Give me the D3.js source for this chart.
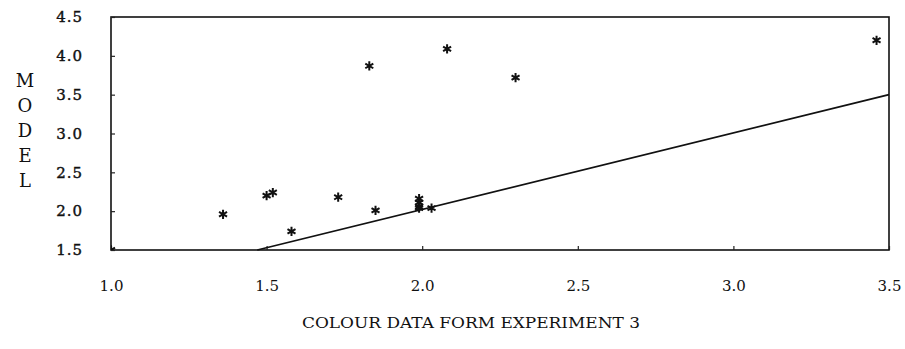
<!DOCTYPE html>
<html>
<head>
<meta charset="utf-8">
<script src="https://cdn.jsdelivr.net/npm/d3@7"></script>
<style>
  html, body { margin: 0; padding: 0; background: #fff; }
  svg { display: block; }
  svg text { font-family: "DejaVu Serif", "Liberation Serif", serif !important; }
</style>
</head>
<body>
<svg id="chart" width="905" height="349"></svg>
<script>
// ---- data ----
const xValues = [1.00, 1.36, 1.50, 1.52, 1.58, 1.73, 1.83, 1.85, 1.99, 1.99, 1.99, 1.99, 2.03, 2.08, 2.30, 3.46];
const yValues = [1.50, 1.96, 2.20, 2.24, 1.74, 2.18, 3.87, 2.01, 2.16, 2.11, 2.06, 2.04, 2.04, 4.09, 3.72, 4.20];
const lineX = [1.47, 3.50];
const lineY = [1.50, 3.50];
const xTicks = [1.0, 1.5, 2.0, 2.5, 3.0, 3.5];
const yTicks = [1.5, 2.0, 2.5, 3.0, 3.5, 4.0, 4.5];
const xTitle = "COLOUR DATA FORM EXPERIMENT 3";
const yTitle = "MODEL";

// ---- layout ----
const mLeft = 111, mRight = 889, mTop = 17, mBottom = 250;
const svg = d3.select("#chart");

const x = d3.scaleLinear().domain([1.0, 3.5]).range([mLeft, mRight]);
const y = d3.scaleLinear().domain([1.5, 4.5]).range([mBottom, mTop]);

// frame
svg.append("rect")
  .attr("x", mLeft).attr("y", mTop)
  .attr("width", mRight - mLeft).attr("height", mBottom - mTop)
  .attr("fill", "none").attr("stroke", "#111").attr("stroke-width", 1.6);

// y axis
const yAxis = svg.append("g")
  .attr("transform", `translate(${mLeft},0)`)
  .call(d3.axisLeft(y).tickValues(yTicks).tickFormat(d3.format(".1f")).tickSize(-4).tickPadding(28));
yAxis.select(".domain").remove();
yAxis.selectAll("line").attr("stroke", "#222").attr("stroke-width", 1.2);
yAxis.selectAll("text")
  .style("font-size", "15px").style("letter-spacing", "1px").attr("fill", "#111")
  .attr("stroke", "#111").attr("stroke-width", 0.4);

// x axis
const xAxis = svg.append("g")
  .attr("transform", `translate(0,${mBottom})`)
  .call(d3.axisBottom(x).tickValues(xTicks).tickFormat(d3.format(".1f")).tickSize(-4).tickPadding(30));
xAxis.select(".domain").remove();
xAxis.selectAll("line").attr("stroke", "#222").attr("stroke-width", 1.2);
xAxis.selectAll("text")
  .style("font-size", "15px").attr("fill", "#111");

// clip
svg.append("clipPath").attr("id", "plotclip")
  .append("rect").attr("x", mLeft).attr("y", mTop).attr("width", mRight - mLeft).attr("height", mBottom - mTop);

// reference line
const lineData = lineX.map((d, i) => [d, lineY[i]]);
svg.append("path")
  .datum(lineData)
  .attr("d", d3.line().x(d => x(d[0])).y(d => y(d[1])))
  .attr("fill", "none").attr("stroke", "#111").attr("stroke-width", 1.8);

// points
const pts = xValues.map((d, i) => [d, yValues[i]]);
const sym = d3.symbol().type(d3.symbolAsterisk).size(60);
svg.append("g").attr("clip-path", "url(#plotclip)")
  .selectAll("path.pt")
  .data(pts)
  .join("path")
  .attr("class", "pt")
  .attr("transform", d => `translate(${x(d[0])},${y(d[1])})`)
  .attr("d", sym)
  .attr("fill", "none").attr("stroke", "#111").attr("stroke-width", 2);

// x title
svg.append("text")
  .attr("x", 471).attr("y", 328)
  .attr("text-anchor", "middle")
  .style("font-size", "15px").attr("fill", "#111")
  .attr("textLength", 338).attr("lengthAdjust", "spacingAndGlyphs")
  .text(xTitle);

// y title (stacked letters)
const letters = yTitle.split("");
const letterY = d3.scalePoint().domain(d3.range(letters.length)).range([81, 181]);
svg.append("g").selectAll("text")
  .data(letters)
  .join("text")
  .attr("x", 25).attr("y", (d, i) => letterY(i))
  .attr("dy", "0.35em")
  .attr("text-anchor", "middle")
  .style("font-size", "18px").attr("fill", "#111")
  .text(d => d);
</script>
</body>
</html>
